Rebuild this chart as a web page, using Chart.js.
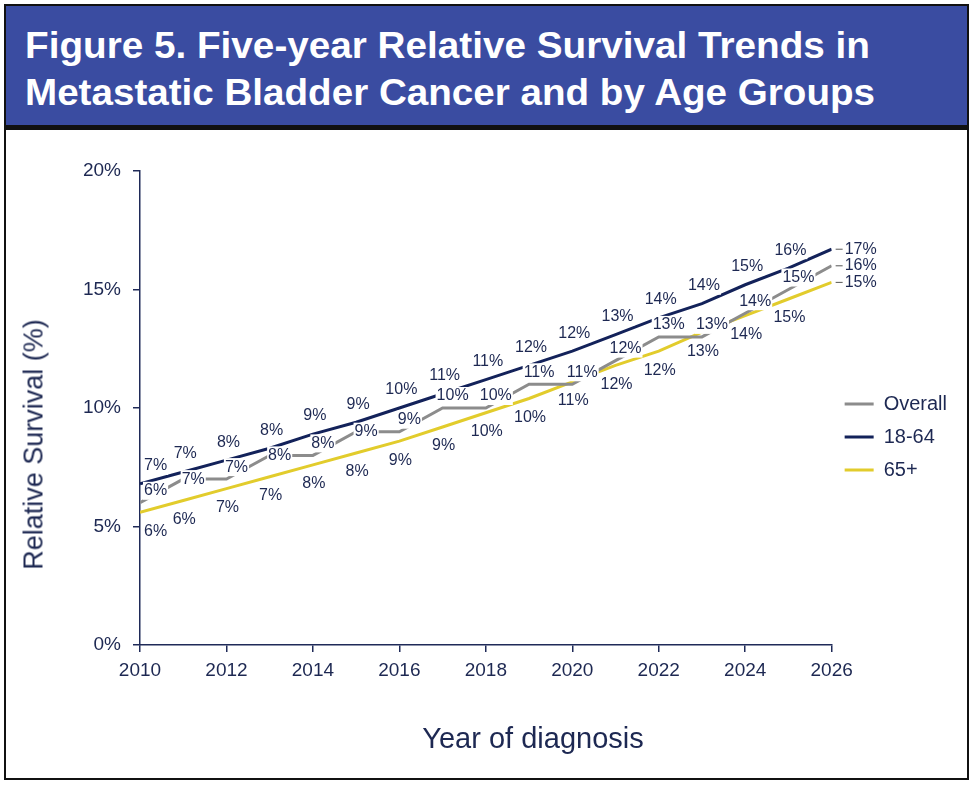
<!DOCTYPE html>
<html>
<head>
<meta charset="utf-8">
<title>Figure 5</title>
<script src="https://cdn.jsdelivr.net/npm/chart.js@4.4.1/dist/chart.umd.min.js"></script>
<style>
  html, body { margin: 0; padding: 0; background: #fff; }
  body { width: 973px; height: 788px; position: relative; overflow: hidden; font-family: "Liberation Sans", Arial, sans-serif; }
  #frame { position: absolute; left: 4px; top: 4px; width: 965px; height: 776px; border: 2px solid #111; box-sizing: border-box; }
  #head { position: absolute; left: 0; top: 0; right: 0; height: 119px; background: #3a4ca1; border-bottom: 5px solid #111; }
  .tl { position: absolute; left: 25px; white-space: nowrap; font: bold 37px "Liberation Sans", Arial, sans-serif; line-height: 37px; color: #fff; transform-origin: 0 0; }
  #chartBox { position: absolute; left: 6px; top: 130px; width: 961px; height: 648px; }
  .axisTitle { position: absolute; white-space: nowrap; text-align: center; color: #1d2852; }
  #yTitle { left: -166px; top: 431px; width: 400px; height: 27px; font-size: 27px; line-height: 27px; transform: rotate(-90deg); }
  #xTitle { left: 333px; top: 724px; width: 400px; font-size: 29px; line-height: 29px; }
</style>
</head>
<body>
<div id="frame"><div id="head"></div></div>
<div class="tl" id="t1" data-w="845" style="top:27px">Figure 5. Five-year Relative Survival Trends in</div>
<div class="tl" id="t2" data-w="850" style="top:74px">Metastatic Bladder Cancer and by Age Groups</div>
<div id="chartBox"><canvas id="survivalChart" width="961" height="648"></canvas></div>
<div class="axisTitle" id="yTitle">Relative Survival (%)</div>
<div class="axisTitle" id="xTitle">Year of diagnosis</div>
<script>
// Survival data
const years = [2010, 2011, 2012, 2013, 2014, 2015, 2016, 2017, 2018, 2019, 2020, 2021, 2022, 2023, 2024, 2025, 2026];
const overall = [6, 7, 7, 8, 8, 9, 9, 10, 10, 11, 11, 12, 13, 13, 14, 15, 16];
const age18to64 = [6.8, 7.3, 7.8, 8.3, 8.9, 9.4, 10.0, 10.6, 11.2, 11.8, 12.4, 13.1, 13.8, 14.4, 15.2, 15.9, 16.7];
const age65plus = [5.6, 6.1, 6.6, 7.1, 7.6, 8.1, 8.6, 9.2, 9.8, 10.4, 11.1, 11.8, 12.4, 13.2, 13.9, 14.6, 15.3];
const seriesNames = ["Overall", "18-64", "65+"];
const yTicks = [0, 5, 10, 15, 20];

const textColor = "#1d2852";
const axisColor = "#1f2a58";

// squeeze the title lines to the width they have in the figure
document.querySelectorAll(".tl").forEach((el) => {
  const w = el.getBoundingClientRect().width;
  el.style.transform = "scaleX(" + (Number(el.dataset.w) / w) + ")";
});

Chart.defaults.font.family = '"Liberation Sans", Arial, sans-serif';
Chart.defaults.color = textColor;

function toPoints(values) {
  return values.map((v, i) => ({ x: years[i], y: v }));
}

function overlaps(a, b) {
  return a.x1 < b.x2 && b.x1 < a.x2 && a.y1 < b.y2 && b.y1 < a.y2;
}

// percent labels with white boxes next to every point
const pointLabels = {
  id: "pointLabels",
  afterDatasetsDraw(chart) {
    const ctx = chart.ctx;
    const area = chart.chartArea;
    const placed = [];
    const todo = [];
    ctx.save();
    ctx.font = '16px "Liberation Sans", Arial, sans-serif';
    ctx.textBaseline = "middle";
    ctx.textAlign = "center";

    // age groups first, then overall fits around them
    const order = chart.data.datasets
      .map((ds, i) => i)
      .sort((a, b) => (chart.data.datasets[a].labelAlt ? 1 : 0) - (chart.data.datasets[b].labelAlt ? 1 : 0));

    order.forEach((i) => {
      const ds = chart.data.datasets[i];
      const meta = chart.getDatasetMeta(i);
      if (meta.hidden) return;
      const last = meta.data.length - 1;
      meta.data.forEach((pt, j) => {
        const text = Math.round(ds.data[j].y) + "%";
        const w = ctx.measureText(text).width;
        let x, y;
        if (j === last) {
          x = pt.x + 13 + w / 2;
          y = pt.y;
          todo.push({ text, x, y, w, lead: pt });
          return;
        }
        const tries = [[ds.labelDx, ds.labelDy]];
        if (ds.labelAlt) tries.push(ds.labelAlt);
        let box;
        for (const [dx, dy] of tries) {
          x = Math.max(pt.x + dx, area.left + 4 + w / 2);
          y = pt.y + dy;
          box = { x1: x - w / 2 - 1, x2: x + w / 2 + 1, y1: y - 9, y2: y + 9 };
          if (!placed.some((p) => overlaps(p, box))) break;
        }
        placed.push(box);
        todo.push({ text, x, y, w });
      });
    });

    todo.forEach((lab) => {
      if (lab.lead) {
        ctx.strokeStyle = "#555";
        ctx.lineWidth = 1;
        ctx.beginPath();
        ctx.moveTo(lab.lead.x + 4, lab.lead.y);
        ctx.lineTo(lab.lead.x + 11, lab.lead.y);
        ctx.stroke();
      }
      ctx.fillStyle = "#fff";
      ctx.fillRect(lab.x - lab.w / 2 - 1, lab.y - 9, lab.w + 2, 18);
      ctx.fillStyle = textColor;
      ctx.fillText(lab.text, lab.x, lab.y);
    });
    ctx.restore();
  },
};

const ctx = document.getElementById("survivalChart").getContext("2d");
new Chart(ctx, {
  type: "line",
  data: {
    datasets: [
      {
        label: seriesNames[0],
        data: toPoints(overall),
        borderColor: "#8c8c8c",
        borderWidth: 3,
        labelDx: 10,
        labelDy: -12,
        labelAlt: [10, 0],
      },
      {
        label: seriesNames[1],
        data: toPoints(age18to64),
        borderColor: "#13225a",
        borderWidth: 3,
        labelDx: 2,
        labelDy: -18,
      },
      {
        label: seriesNames[2],
        data: toPoints(age65plus),
        borderColor: "#e2cc2c",
        borderWidth: 3,
        labelDx: 1,
        labelDy: 19,
      },
    ],
  },
  options: {
    responsive: false,
    animation: false,
    devicePixelRatio: 1,
    layout: { padding: { top: 41, right: 10, bottom: 0, left: 0 } },
    elements: {
      point: { radius: 0, hoverRadius: 0 },
      line: { tension: 0, borderCapStyle: "butt" },
    },
    plugins: {
      tooltip: { enabled: false },
      legend: {
        position: "right",
        align: "start",
        // empty title only pushes the entries down beside the lines
        title: { display: true, text: " ", font: { size: 10 }, padding: { top: 0, bottom: 198 } },
        labels: {
          usePointStyle: true,
          pointStyle: "line",
          pointStyleWidth: 29,
          padding: 13,
          color: textColor,
          font: { size: 20 },
        },
      },
    },
    scales: {
      x: {
        type: "linear",
        min: years[0],
        max: years[years.length - 1],
        afterFit(scale) {
          scale.height = 133;
        },
        ticks: {
          stepSize: 2,
          maxRotation: 0,
          padding: 7,
          color: textColor,
          font: { size: 19 },
          callback: (v) => String(v),
        },
        grid: { drawOnChartArea: false, tickLength: 7, color: axisColor, lineWidth: 1.5 },
        border: { color: axisColor, width: 1.5 },
      },
      y: {
        min: yTicks[0],
        max: yTicks[yTicks.length - 1],
        afterFit(scale) {
          scale.width = 134;
        },
        ticks: {
          stepSize: 5,
          padding: 12,
          color: textColor,
          font: { size: 19 },
          callback: (v) => v + "%",
        },
        grid: { drawOnChartArea: false, tickLength: 7, color: axisColor, lineWidth: 1.5 },
        border: { color: axisColor, width: 1.5 },
      },
    },
  },
  plugins: [pointLabels],
});
</script>
</body>
</html>
